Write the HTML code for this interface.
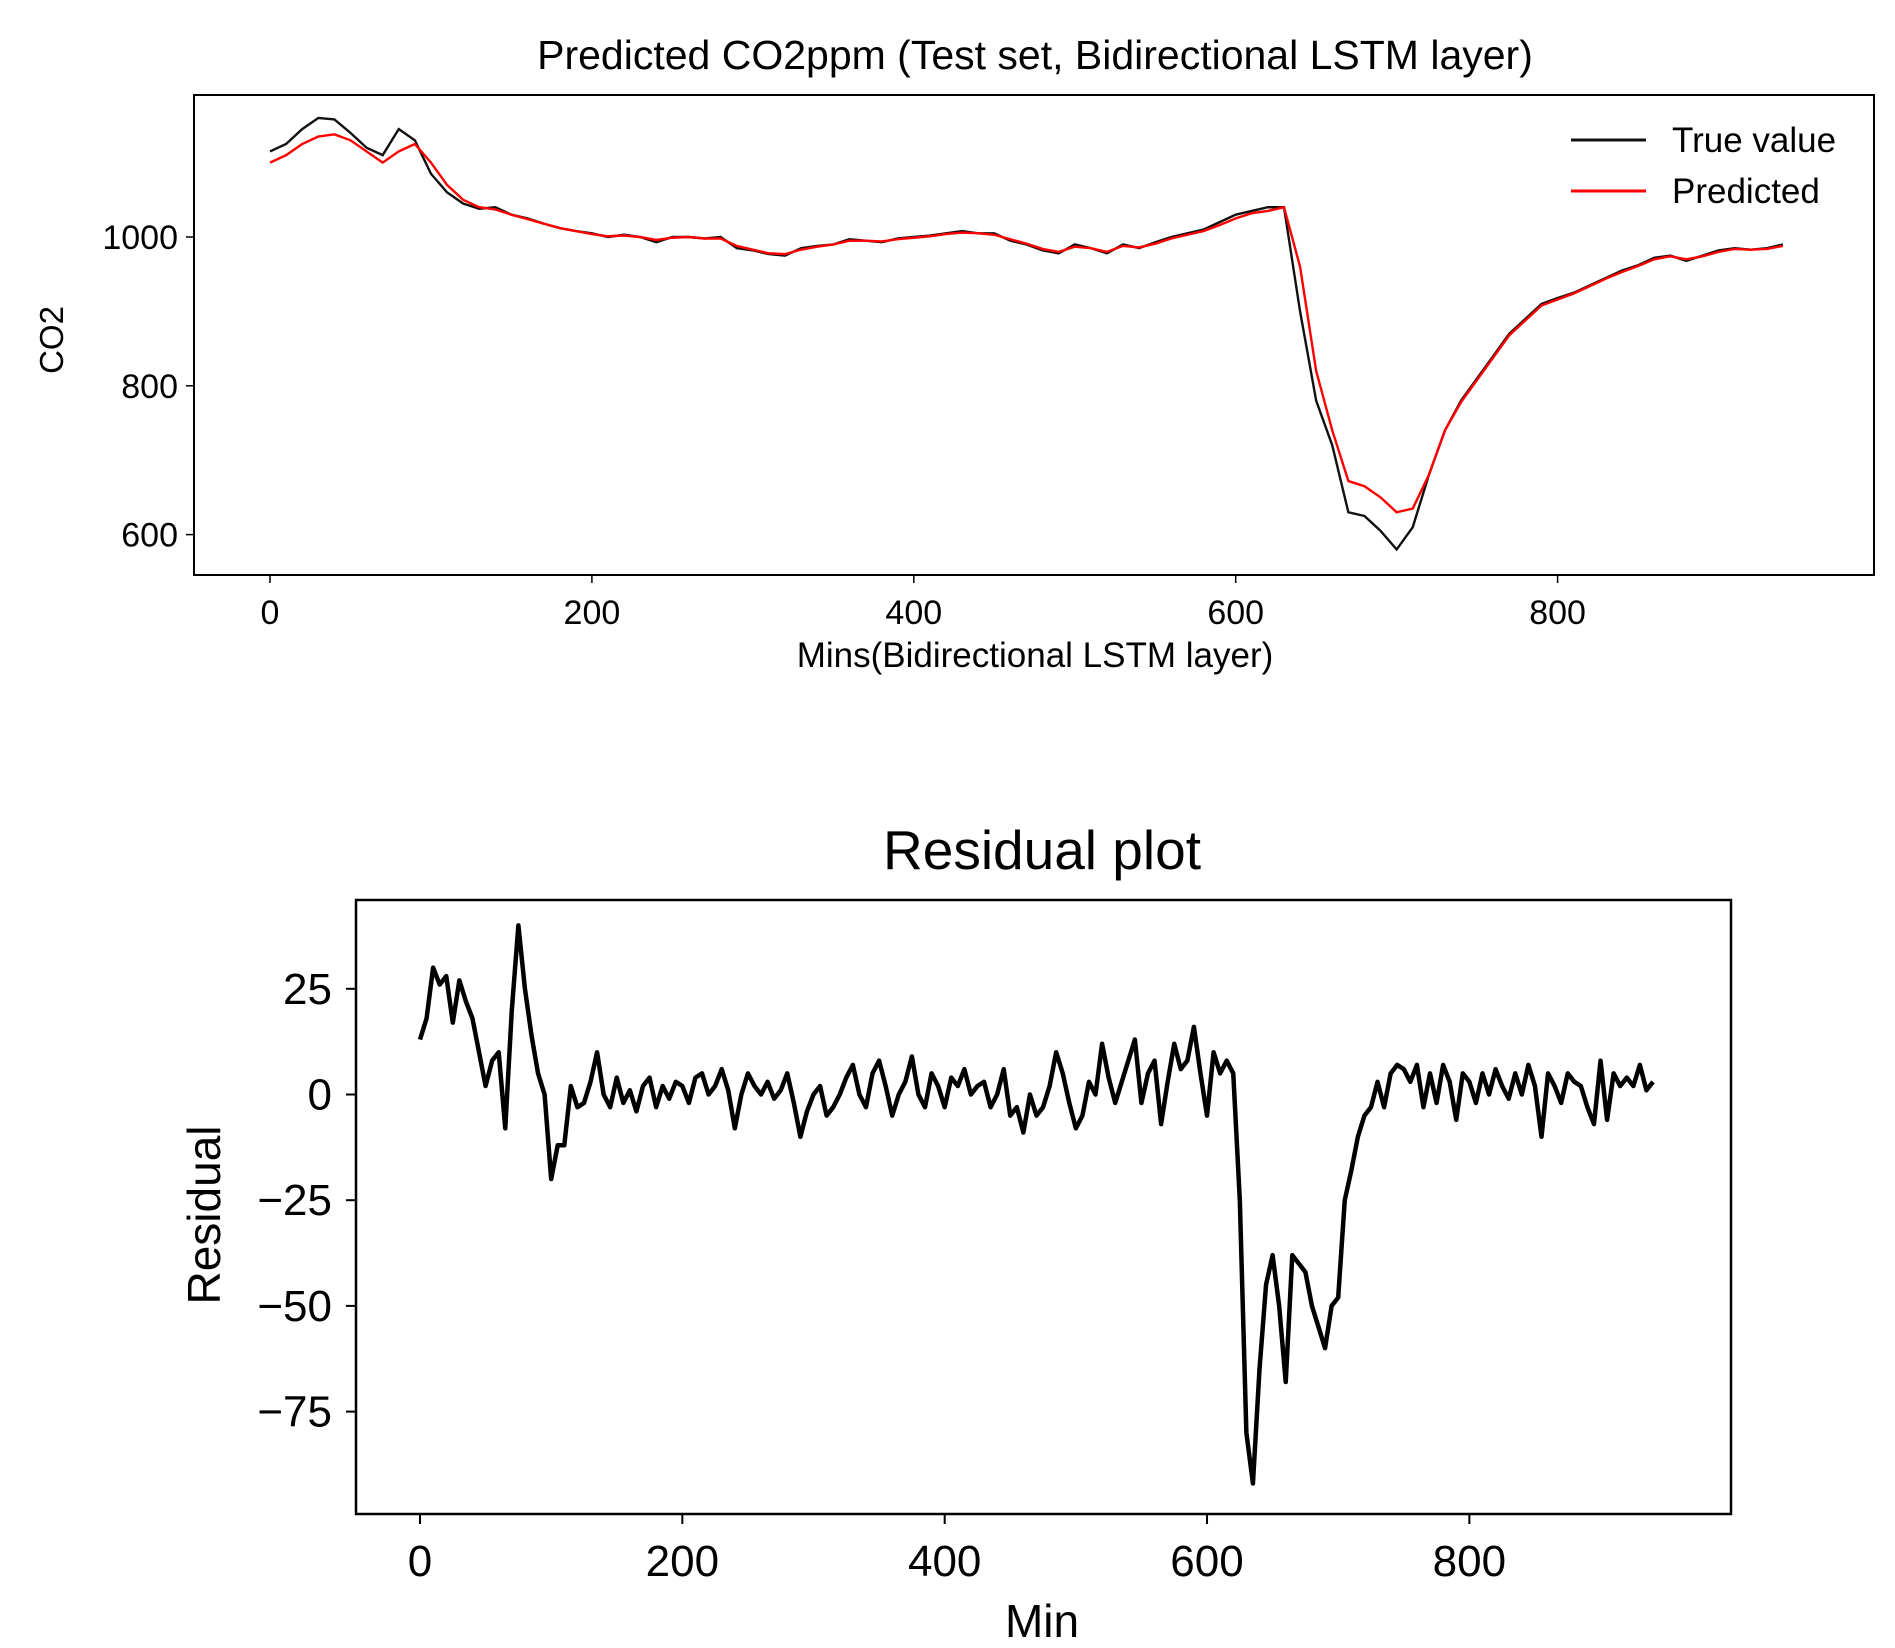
<!DOCTYPE html>
<html><head><meta charset="utf-8"><style>
body{margin:0;background:#fff;}
svg{display:block;font-family:"Liberation Sans",Arial,sans-serif;}
</style></head><body>
<svg id="fig" width="1895" height="1648" viewBox="0 0 1895 1648"></svg>
<script>
const co2Minutes=[0,10,20,30,40,50,60,70,80,90,100,110,120,130,140,150,160,170,180,190,200,210,220,230,240,250,260,270,280,290,300,310,320,330,340,350,360,370,380,390,400,410,420,430,440,450,460,470,480,490,500,510,520,530,540,550,560,570,580,590,600,610,620,630,640,650,660,670,680,690,700,710,720,730,740,750,760,770,780,790,800,810,820,830,840,850,860,870,880,890,900,910,920,930,940];
const trueValues=[1115,1125,1145,1160,1158,1140,1120,1110,1145,1130,1085,1060,1045,1038,1040,1030,1025,1018,1012,1008,1005,1000,1003,1000,993,1000,1000,998,1000,985,982,977,975,985,988,990,997,995,993,998,1000,1002,1005,1008,1005,1005,995,990,982,978,990,985,978,990,985,993,1000,1005,1010,1020,1030,1035,1040,1040,900,780,720,630,625,605,580,610,680,740,780,810,840,870,890,910,918,925,935,945,955,962,972,975,968,975,982,985,983,985,990];
const predictedValues=[1100,1110,1125,1135,1138,1130,1115,1100,1115,1125,1100,1070,1050,1040,1037,1030,1024,1018,1012,1008,1004,1001,1002,1000,996,999,1000,998,998,988,983,978,977,983,987,990,995,995,994,997,999,1001,1004,1006,1005,1003,997,991,984,980,987,985,980,988,986,991,998,1003,1008,1016,1025,1032,1035,1040,960,820,740,672,665,650,630,635,680,740,778,808,838,868,888,908,916,924,934,944,953,961,970,974,970,974,980,984,983,984,988];
const co2XTicks=[0,200,400,600,800];
const co2YTicks=[600,800,1000];
const residMinutes=[];for(let m=0;m<=945;m+=5)residMinutes.push(m);
const residValues=[13,18,30,26,28,17,27,22,18,10,2,8,10,-8,20,40,25,14,5,0,-20,-12,-12,2,-3,-2,3,10,0,-3,4,-2,1,-4,2,4,-3,2,-1,3,2,-2,4,5,0,2,6,1,-8,0,5,2,0,3,-1,1,5,-2,-10,-4,0,2,-5,-3,0,4,7,0,-3,5,8,2,-5,0,3,9,0,-3,5,2,-3,4,2,6,0,2,3,-3,0,6,-5,-3,-9,0,-5,-3,2,10,5,-2,-8,-5,3,0,12,4,-2,3,8,13,-2,5,8,-7,3,12,6,8,16,5,-5,10,5,8,5,-25,-80,-92,-65,-45,-38,-50,-68,-38,-40,-42,-50,-55,-60,-50,-48,-25,-18,-10,-5,-3,3,-3,5,7,6,3,7,-3,5,-2,7,3,-6,5,3,-2,5,0,6,2,-1,5,0,7,2,-10,5,2,-2,5,3,2,-3,-7,8,-6,5,2,4,2,7,1,3];
const residXTicks=[0,200,400,600,800];
const residYTicks=[-75,-50,-25,0,25];

const NS="http://www.w3.org/2000/svg";
const svg=document.getElementById('fig');
function mk(tag,attrs,parent){const e=document.createElementNS(NS,tag);for(const k in attrs)e.setAttribute(k,attrs[k]);(parent||svg).appendChild(e);return e;}
function txt(s,attrs){const e=mk('text',attrs);e.textContent=s;return e;}

// ---- top chart ----
const tx=v=>270+v*1.6095, ty=v=>237-(v-1000)*0.744;
let t=txt('Predicted CO2ppm  (Test set, Bidirectional LSTM layer)',{x:1035,y:69,'text-anchor':'middle','font-size':41,'xml:space':'preserve'});


let r=mk('rect',{x:194,y:95,width:1680,height:480,fill:'none',stroke:'#000','stroke-width':2});


co2XTicks.forEach(v=>{
  let l=mk('line',{x1:tx(v),x2:tx(v),y1:575,y2:583,stroke:'#000','stroke-width':1.5});
  
  
  let e=txt(String(v),{x:tx(v),y:624,'text-anchor':'middle','font-size':34});
  
  
});
co2YTicks.forEach(v=>{
  let l=mk('line',{x1:186,x2:194,y1:ty(v),y2:ty(v),stroke:'#000','stroke-width':1.5});
  
  
  let e=txt(String(v),{x:178,y:ty(v)+12,'text-anchor':'end','font-size':34});
  
  
});
t=txt('Mins(Bidirectional LSTM layer)',{x:1035,y:667,'text-anchor':'middle','font-size':35});


t=txt('CO2',{x:0,y:0,'text-anchor':'middle','font-size':33,transform:'translate(63,340) rotate(-90)'});


let p=mk('polyline',{points:co2Minutes.map((m,i)=>tx(m)+','+ty(trueValues[i])).join(' '),fill:'none',stroke:'#111','stroke-width':2.4});


p=mk('polyline',{points:co2Minutes.map((m,i)=>tx(m)+','+ty(predictedValues[i])).join(' '),fill:'none',stroke:'#f00','stroke-width':2.4});


let l=mk('line',{x1:1571,x2:1646,y1:140,y2:140,stroke:'#111','stroke-width':3});


t=txt('True value',{x:1672,y:152,'font-size':35});


l=mk('line',{x1:1571,x2:1646,y1:191,y2:191,stroke:'#f00','stroke-width':3});


t=txt('Predicted',{x:1672,y:203,'font-size':35});



// ---- bottom chart ----
const bx=v=>420+v*1.3117, by=v=>1094.5-v*4.228;
t=txt('Residual plot',{x:1042,y:869,'text-anchor':'middle','font-size':55});


r=mk('rect',{x:356,y:900,width:1375,height:614,fill:'none',stroke:'#000','stroke-width':2.5});


residXTicks.forEach(v=>{
  let l=mk('line',{x1:bx(v),x2:bx(v),y1:1514,y2:1524,stroke:'#000','stroke-width':2});
  
  
  let e=txt(String(v),{x:bx(v),y:1576,'text-anchor':'middle','font-size':44});
  
  
});
residYTicks.forEach(v=>{
  let l=mk('line',{x1:346,x2:356,y1:by(v),y2:by(v),stroke:'#000','stroke-width':2});
  
  
  let e=txt(v<0?'\u2212'+(-v):String(v),{x:332,y:by(v)+15,'text-anchor':'end','font-size':44});
  
  
});
t=txt('Min',{x:1042,y:1637,'text-anchor':'middle','font-size':46});


t=txt('Residual',{x:0,y:0,'text-anchor':'middle','font-size':46,transform:'translate(220,1215) rotate(-90)'});


p=mk('polyline',{points:residMinutes.map((m,i)=>bx(m)+','+by(residValues[i])).join(' '),fill:'none',stroke:'#000','stroke-width':4.5,'stroke-linejoin':'round'});


</script>
</body></html>
